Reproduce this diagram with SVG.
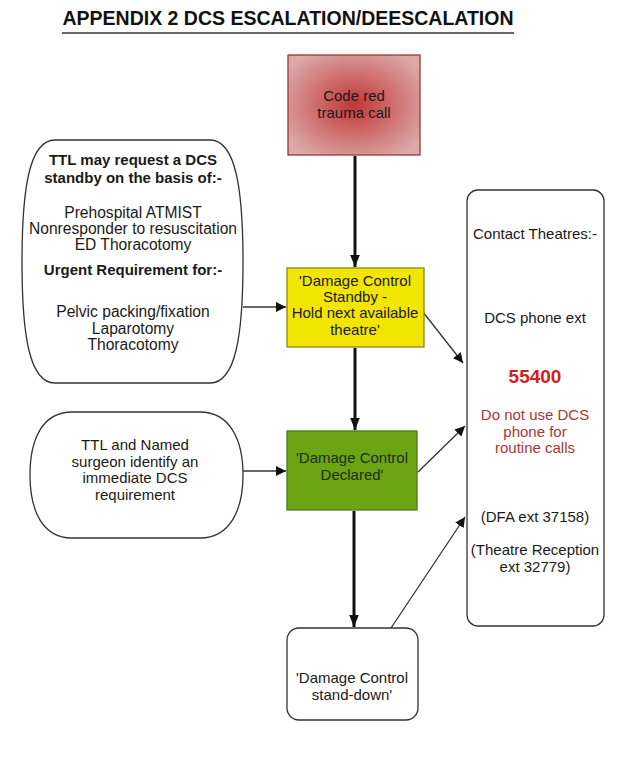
<svg xmlns="http://www.w3.org/2000/svg" width="641" height="780" viewBox="0 0 641 780">
<defs>
<style>
text{font-family:"Liberation Sans",Arial,sans-serif;font-size:15px;fill:#1a1a1a;text-anchor:middle}
.b{font-weight:bold}
.l{font-size:15.6px}
.node{stroke:#333;stroke-width:1.3;fill:#fff}
.thin{stroke:#333;stroke-width:1.3;fill:none}
.thick{stroke:#111;stroke-width:3;fill:none}
.red{fill:#a83838}
</style>
<radialGradient id="rg" cx="50%" cy="50%" r="62%">
<stop offset="0" stop-color="#c23636"/>
<stop offset="1" stop-color="#dcaaaa"/>
</radialGradient>
<marker id="ah" viewBox="0 0 10 10" refX="10" refY="5" markerWidth="10" markerHeight="10" markerUnits="userSpaceOnUse" orient="auto">
<path d="M0,0 L10,5 L0,10 Z" fill="#111"/>
</marker>
<marker id="ahT" viewBox="0 0 10 10" refX="10" refY="5" markerWidth="4" markerHeight="4" orient="auto">
<path d="M0,1 L10,5 L0,9 Z" fill="#111"/>
</marker>
</defs>
<rect width="641" height="780" fill="#fff"/>
<g id="title">
<text x="288" y="25" class="b" style="font-size:19.5px;fill:#111">APPENDIX 2 DCS ESCALATION/DEESCALATION</text>
<line x1="62" y1="33" x2="514" y2="33" stroke="#333" stroke-width="1.5"/>
</g>
<g id="connectors">
<line class="thick" x1="355" y1="156" x2="355" y2="267" marker-end="url(#ahT)"/>
<line class="thick" x1="355" y1="348" x2="355" y2="430" marker-end="url(#ahT)"/>
<line class="thick" x1="354" y1="511" x2="354" y2="627" marker-end="url(#ahT)"/>
<line class="thin" x1="243" y1="307" x2="286" y2="307" marker-end="url(#ah)"/>
<line class="thin" x1="243" y1="471" x2="286" y2="471" marker-end="url(#ah)"/>
<line class="thin" x1="423" y1="312" x2="463" y2="363" marker-end="url(#ah)"/>
<line class="thin" x1="418" y1="472" x2="465" y2="426" marker-end="url(#ah)"/>
<line class="thin" x1="391" y1="628" x2="465" y2="517" marker-end="url(#ah)"/>
</g>
<g id="code-red">
<rect x="288" y="55" width="132" height="100" fill="url(#rg)" stroke="#9a3a3a" stroke-width="1.3"/>
<text x="354" y="101">Code red</text>
<text x="354" y="118">trauma call</text>
</g>
<g id="ttl-request">
<path class="node" d="M55,140 L210,140 C236,140 243,190 243,262 C243,334 236,383 210,383 L55,383 C29,383 22,334 22,262 C22,190 29,140 55,140 Z"/>
<text x="133" y="165" class="b">TTL may request a DCS</text>
<text x="133" y="183" class="b">standby on the basis of:-</text>
<text x="133" y="218" class="l">Prehospital ATMIST</text>
<text x="133" y="234" class="l">Nonresponder to resuscitation</text>
<text x="133" y="250" class="l">ED Thoracotomy</text>
<text x="133" y="275" class="b">Urgent Requirement for:-</text>
<text x="133" y="317" class="l">Pelvic packing/fixation</text>
<text x="133" y="334" class="l">Laparotomy</text>
<text x="133" y="350" class="l">Thoracotomy</text>
</g>
<g id="dc-standby">
<rect x="287" y="268" width="137" height="79" fill="#f2e600" stroke="#8a8420" stroke-width="1.3"/>
<text x="355" y="286">'Damage Control</text>
<text x="355" y="302">Standby -</text>
<text x="355" y="318">Hold next available</text>
<text x="355" y="335">theatre'</text>
</g>
<g id="ttl-named">
<path class="node" d="M72,412 L200,412 C230,412 243,440 243,475 C243,510 230,538 200,538 L72,538 C42,538 30,510 30,475 C30,440 42,412 72,412 Z"/>
<text x="135" y="450">TTL and Named</text>
<text x="135" y="467">surgeon identify an</text>
<text x="135" y="483">immediate DCS</text>
<text x="135" y="500">requirement</text>
</g>
<g id="dc-declared">
<rect x="287" y="431" width="130" height="79" fill="#6ba514" stroke="#4c7a18" stroke-width="1.3"/>
<text x="352" y="463" style="fill:#1e2e08">'Damage Control</text>
<text x="352" y="480" style="fill:#1e2e08">Declared'</text>
</g>
<g id="dc-standdown">
<rect x="287" y="628" width="131" height="92" rx="12" class="node"/>
<text x="352" y="683">'Damage Control</text>
<text x="352" y="700">stand-down'</text>
</g>
<g id="contact">
<rect x="467" y="190" width="137" height="436" rx="11" class="node"/>
<text x="535" y="239">Contact Theatres:-</text>
<text x="535" y="323">DCS phone ext</text>
<text x="535" y="383" class="b" style="font-size:19px;fill:#d42020">55400</text>
<text x="535" y="420" class="red">Do not use DCS</text>
<text x="535" y="437" class="red">phone for</text>
<text x="535" y="453" class="red">routine calls</text>
<text x="535" y="522">(DFA ext 37158)</text>
<text x="535" y="555">(Theatre Reception</text>
<text x="535" y="572">ext 32779)</text>
</g>
</svg>
